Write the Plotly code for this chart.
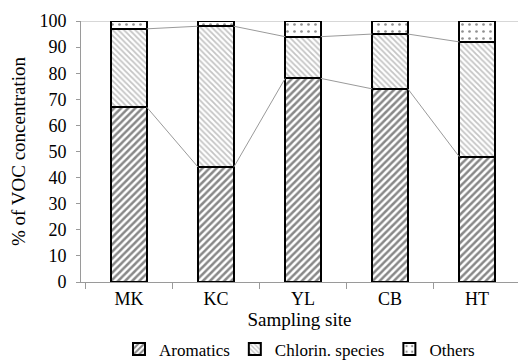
import plotly.graph_objects as go

sites = ["MK", "KC", "YL", "CB", "HT"]
aromatics = [67, 44, 78, 74, 48]
chlorin = [30, 54, 16, 21, 44]
others = [3, 2, 6, 5, 8]

x = list(range(len(sites)))
W = 0.41
FONT = "Liberation Serif"

fig = go.Figure()

# series lines between stacked boundaries
cum1 = aromatics
cum2 = [a + c for a, c in zip(aromatics, chlorin)]
for cum in (cum1, cum2):
    lx, ly = [], []
    for i in range(len(sites) - 1):
        lx += [x[i] + W / 2, x[i + 1] - W / 2, None]
        ly += [cum[i], cum[i + 1], None]
    fig.add_trace(go.Scatter(x=lx, y=ly, mode="lines", line=dict(color="#9a9a9a", width=1),
                             showlegend=False, hoverinfo="skip"))

fig.add_trace(go.Bar(x=x, y=aromatics, name="Aromatics", width=W,
                     marker=dict(color="white", line=dict(color="black", width=2),
                                 pattern=dict(shape="/", fgcolor="#111", bgcolor="white",
                                              size=5, solidity=0.5))))
fig.add_trace(go.Bar(x=x, y=chlorin, name="Chlorin. species", width=W,
                     marker=dict(color="white", line=dict(color="black", width=2),
                                 pattern=dict(shape="\\", fgcolor="#8a8a8a", bgcolor="white",
                                              size=4, solidity=0.45))))
fig.add_trace(go.Bar(x=x, y=others, name="Others", width=W,
                     marker=dict(color="white", line=dict(color="black", width=2),
                                 pattern=dict(shape=".", fgcolor="#222", bgcolor="white",
                                              size=7, solidity=0.12))))

fig.add_shape(type="line", xref="paper", yref="y", x0=0, x1=1, y0=100, y1=100,
              line=dict(color="#b0b0b0", width=1), layer="below")

fig.update_layout(
    barmode="stack",
    width=518, height=362,
    margin=dict(l=81, r=0, t=21, b=80, autoexpand=False),
    plot_bgcolor="white", paper_bgcolor="white",
    font=dict(family=FONT, size=18, color="black"),
    legend=dict(orientation="h", x=0.5, xanchor="center", y=-0.258, yanchor="middle",
                traceorder="normal", font=dict(family=FONT, size=17), itemwidth=30,
                tracegroupgap=0),
    xaxis=dict(range=[-0.55, 4.47], tickvals=x, ticktext=sites, ticks="",
               showline=True, linecolor="#9a9a9a", linewidth=1, showgrid=False, zeroline=False,
               minor=dict(tick0=0.5, dtick=1, ticks="outside", ticklen=6, tickcolor="#9a9a9a"),
               title=dict(text="Sampling site", font=dict(family=FONT, size=19), standoff=2),
               tickfont=dict(family=FONT, size=18)),
    yaxis=dict(range=[0, 100], dtick=10, ticks="outside", ticklen=4, tickcolor="#9a9a9a",
               ticklabelstandoff=6,
               showline=True, linecolor="#9a9a9a", linewidth=1, showgrid=False, zeroline=False,
               title=dict(text="% of VOC concentration", font=dict(family=FONT, size=19), standoff=8),
               tickfont=dict(family=FONT, size=18)),
)

fig.write_html("out.html")
